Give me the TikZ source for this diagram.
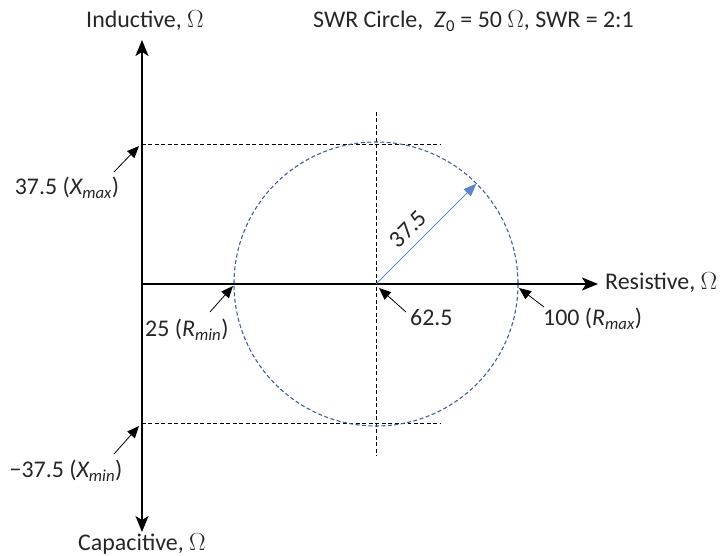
\documentclass[tikz,border=0pt]{standalone}
\usepackage{fontspec}
\setmainfont{Carlito}
\usetikzlibrary{arrows.meta}
\definecolor{circblue}{HTML}{3F5E9A}
\definecolor{radblue}{HTML}{5B86CC}
\newcommand{\lblfont}{\fontsize{24pt}{28pt}\selectfont}
\tikzset{
  axis/.style={line width=2pt,-{Stealth[length=16pt,width=13pt,inset=4pt]}},
  guide/.style={line width=1pt,dash pattern=on 4pt off 2.5pt},
  pointer/.style={line width=0.8pt,-{Triangle[length=12pt,width=10pt]}},
  lbl/.style={font={\lblfont},inner sep=1pt,text=black!85},
}
\begin{document}
\begin{tikzpicture}[x=1bp,y=-1bp]
\useasboundingbox (0,0) rectangle (723,556);
% key points
\coordinate (O) at (142,284);
\coordinate (C) at (376,284);
\coordinate (ytop) at (142,40);
\coordinate (ybot) at (142,532);
\coordinate (xend) at (598,284);
\coordinate (ymax) at (142,144);
\coordinate (ymin) at (142,423);
\coordinate (ymaxR) at (440,144);
\coordinate (yminR) at (440,423);
\coordinate (vtop) at (376,112);
\coordinate (vbot) at (376,456);
\coordinate (rad) at (476.4,183.6);
% guides
\draw[guide] (ymax) -- (ymaxR);
\draw[guide] (ymin) -- (yminR);
\draw[guide] (vtop) -- (vbot);
% circle
\draw[circblue,line width=1.1pt,dash pattern=on 4pt off 2.5pt] (C) circle[radius=142];
% axes
\draw[axis] (O) -- (ytop);
\draw[axis] (O) -- (ybot);
\draw[axis] (O) -- (xend);
% radius
\draw[radblue,line width=1pt,-{Triangle[length=13pt,width=10pt]}] (C) -- (rad);
\node[lbl,rotate=45] (r) at (408,229) {37.5};
% labels
\node[lbl] (ind) at (145,21) {Inductive, $\Omega$};
\node[lbl] (cap) at (142,544) {Capacitive, $\Omega$};
\node[lbl,anchor=west] (res) at (604,283) {Resistive, $\Omega$};
\node[lbl,anchor=west] (title) at (312,21) {SWR Circle,\ \ \textit{Z}\textsubscript{0} = 50 $\Omega$, SWR = 2:1};
\node[lbl] (xmaxl) at (67,188) {37.5 (\textit{X\textsubscript{max}})};
\node[lbl] (xminl) at (66,471) {\textminus37.5 (\textit{X\textsubscript{min}})};
\node[lbl,anchor=west] (rminl) at (144,330) {25 (\textit{R\textsubscript{min}})};
\node[lbl,anchor=west] (cl) at (409,318) {62.5};
\node[lbl,anchor=west] (rmaxl) at (542,319) {100 (\textit{R\textsubscript{max}})};
% pointers
\draw[pointer] (114,172) -- (139,146);
\draw[pointer] (114,454) -- (139,426);
\draw[pointer] (210,312) -- (233,286);
\draw[pointer] (406,312) -- (379,288);
\draw[pointer] (544,307) -- (519,288);
\end{tikzpicture}
\end{document}
